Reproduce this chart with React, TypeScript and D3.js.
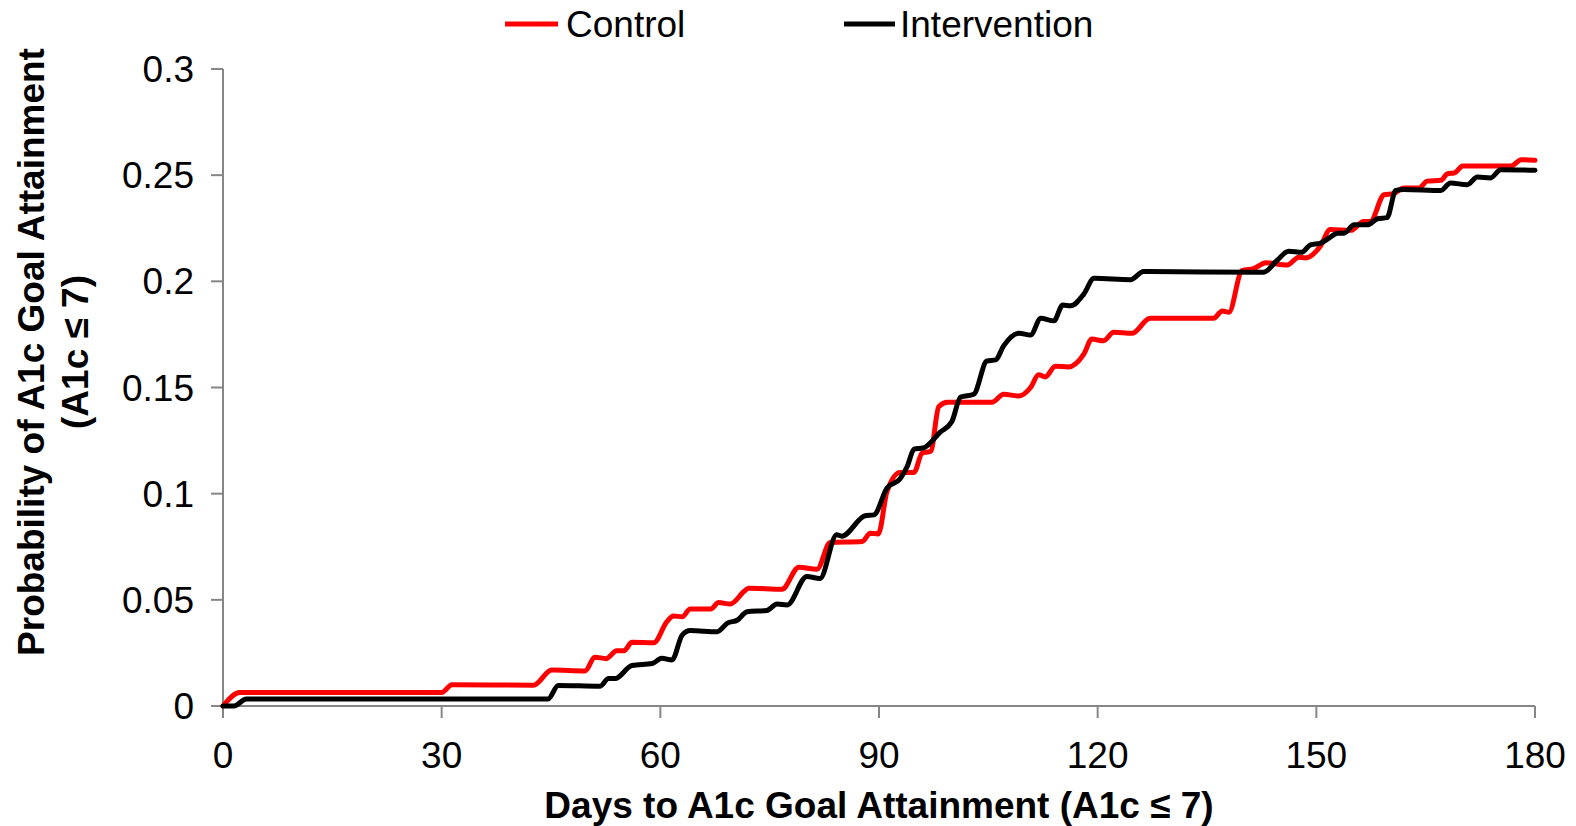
import React from "react";
import * as d3 from "d3";

const controlDays = [0, 2.3, 30, 31.4, 42.6, 45.1, 49.7, 51, 52.6, 54, 55, 56.1, 59.1, 60.9, 61.8, 63, 64.1, 66.9, 68, 69.6, 71.5, 72.1, 76.7, 79, 81.5, 83.3, 87.7, 88.8, 89.9, 91.1, 92.9, 94.8, 95.9, 97.1, 98.2, 99.4, 105.5, 107.1, 109.2, 110.8, 111.9, 112.8, 114.2, 116, 118.1, 119.2, 120.8, 122.2, 124.7, 127.2, 135.9, 137.1, 138, 139.8, 141.4, 143.1, 146, 147.6, 148.5, 150.6, 151.9, 154.7, 156.5, 157.4, 159.3, 160.6, 162, 164.1, 165.2, 167.1, 168, 168.9, 170.1, 176.7, 178.1, 180];
const controlValues = [0, 0.0063, 0.0063, 0.01, 0.0098, 0.0169, 0.0165, 0.023, 0.0223, 0.026, 0.026, 0.03, 0.0298, 0.0397, 0.0424, 0.042, 0.0457, 0.0457, 0.0487, 0.048, 0.054, 0.0555, 0.055, 0.0654, 0.0644, 0.077, 0.0775, 0.0814, 0.081, 0.101, 0.11, 0.11, 0.119, 0.12, 0.141, 0.143, 0.143, 0.1468, 0.146, 0.15, 0.156, 0.155, 0.16, 0.1597, 0.1657, 0.1728, 0.172, 0.176, 0.1755, 0.1826, 0.1826, 0.186, 0.1854, 0.205, 0.206, 0.2087, 0.2077, 0.2114, 0.211, 0.2168, 0.2244, 0.224, 0.2282, 0.2282, 0.2408, 0.2413, 0.244, 0.244, 0.2472, 0.2476, 0.2507, 0.251, 0.2543, 0.2543, 0.2573, 0.257];

const interventionDays = [0, 1.5, 3.2, 44.6, 46, 51.7, 52.9, 53.8, 56.1, 58.9, 60.2, 61.6, 63, 64.1, 67.8, 69.2, 70.6, 71.9, 74.6, 76, 77.4, 80.1, 81.9, 84.2, 84.9, 88.1, 89.3, 91.1, 92.9, 93.9, 94.8, 96.1, 98.4, 100, 101.2, 103, 104.8, 106, 107.1, 109.2, 110.8, 112.2, 114, 115.2, 116.3, 118.1, 119.5, 124.5, 126.3, 142.8, 144.6, 146.2, 148, 149.2, 150.6, 151.7, 152.9, 153.8, 155.2, 157, 158.4, 159.7, 160.9, 162, 167.1, 168.4, 170.7, 172.1, 173.9, 175.3, 180];
const interventionValues = [0, 0, 0.0033, 0.0033, 0.0097, 0.0093, 0.0129, 0.0129, 0.0191, 0.02, 0.0225, 0.0217, 0.0334, 0.0355, 0.035, 0.039, 0.0405, 0.0444, 0.045, 0.048, 0.0476, 0.061, 0.06, 0.0806, 0.08, 0.0896, 0.09, 0.1027, 0.107, 0.113, 0.121, 0.1216, 0.129, 0.134, 0.1455, 0.1468, 0.1625, 0.163, 0.1696, 0.1756, 0.1747, 0.1826, 0.1814, 0.1888, 0.1885, 0.194, 0.2014, 0.2008, 0.2046, 0.2043, 0.2098, 0.2142, 0.2137, 0.2172, 0.218, 0.2203, 0.2227, 0.2227, 0.2266, 0.2266, 0.2295, 0.23, 0.2428, 0.2433, 0.2428, 0.2463, 0.2455, 0.2491, 0.2487, 0.2526, 0.2523];

const xTicks = [0, 30, 60, 90, 120, 150, 180];
const yTicks = [0, 0.05, 0.1, 0.15, 0.2, 0.25, 0.3];
const yTickLabels = ["0", "0.05", "0.1", "0.15", "0.2", "0.25", "0.3"];
const seriesNames = ["Control", "Intervention"];
const seriesColors = ["#ff0000", "#000000"];

const FONT = "'Liberation Sans', Arial, sans-serif";

export default function App() {
  const x = d3.scaleLinear().domain([0, 180]).range([223, 1535]);
  const y = d3.scaleLinear().domain([0, 0.3]).range([706, 69]);
  const line = d3
    .line<[number, number]>()
    .x((d) => x(d[0]))
    .y((d) => y(d[1]))
    .curve(d3.curveMonotoneX);

  const series = [
    controlDays.map((d, i) => [d, controlValues[i]] as [number, number]),
    interventionDays.map((d, i) => [d, interventionValues[i]] as [number, number]),
  ];
  const axisColor = "#868686";

  return (
    <svg
      width={1576}
      height={826}
      style={{ position: "absolute", left: 0, top: 0, display: "block", background: "#fff" }}
      fontFamily={FONT}
    >
      {/* axes */}
      <line x1={x(0)} x2={x(0)} y1={y(0.3)} y2={y(0)} stroke={axisColor} strokeWidth={2} />
      <line x1={x(0)} x2={x(180)} y1={y(0)} y2={y(0)} stroke={axisColor} strokeWidth={2} />
      {yTicks.map((t, i) => (
        <g key={"y" + i}>
          <line x1={x(0) - 12} x2={x(0)} y1={y(t)} y2={y(t)} stroke={axisColor} strokeWidth={2} />
          <text x={194} y={y(t) + 13} textAnchor="end" fontSize={37} fill="#000">
            {yTickLabels[i]}
          </text>
        </g>
      ))}
      {xTicks.map((t, i) => (
        <g key={"x" + i}>
          <line x1={x(t)} x2={x(t)} y1={y(0)} y2={y(0) + 12} stroke={axisColor} strokeWidth={2} />
          <text x={x(t)} y={768} textAnchor="middle" fontSize={37} fill="#000">
            {t}
          </text>
        </g>
      ))}

      {/* series */}
      {series.map((s, i) => (
        <path
          key={"s" + i}
          d={line(s) || ""}
          fill="none"
          stroke={seriesColors[i]}
          strokeWidth={5}
          strokeLinejoin="round"
          strokeLinecap="round"
        />
      ))}

      {/* axis titles */}
      <text x={879} y={818} textAnchor="middle" fontSize={37} fontWeight="bold" fill="#000">
        Days to A1c Goal Attainment (A1c ≤ 7)
      </text>
      <text
        transform="translate(44,352) rotate(-90)"
        textAnchor="middle"
        fontSize={37}
        fontWeight="bold"
        fill="#000"
      >
        Probability of A1c Goal Attainment
      </text>
      <text
        transform="translate(88,352) rotate(-90)"
        textAnchor="middle"
        fontSize={37}
        fontWeight="bold"
        fill="#000"
      >
        (A1c ≤ 7)
      </text>

      {/* legend */}
      <line x1={505} x2={558} y1={24} y2={24} stroke={seriesColors[0]} strokeWidth={5} />
      <text x={566} y={37} fontSize={37} fill="#000">
        {seriesNames[0]}
      </text>
      <line x1={844} x2={895} y1={24} y2={24} stroke={seriesColors[1]} strokeWidth={5} />
      <text x={900} y={37} fontSize={37} fill="#000">
        {seriesNames[1]}
      </text>
    </svg>
  );
}
